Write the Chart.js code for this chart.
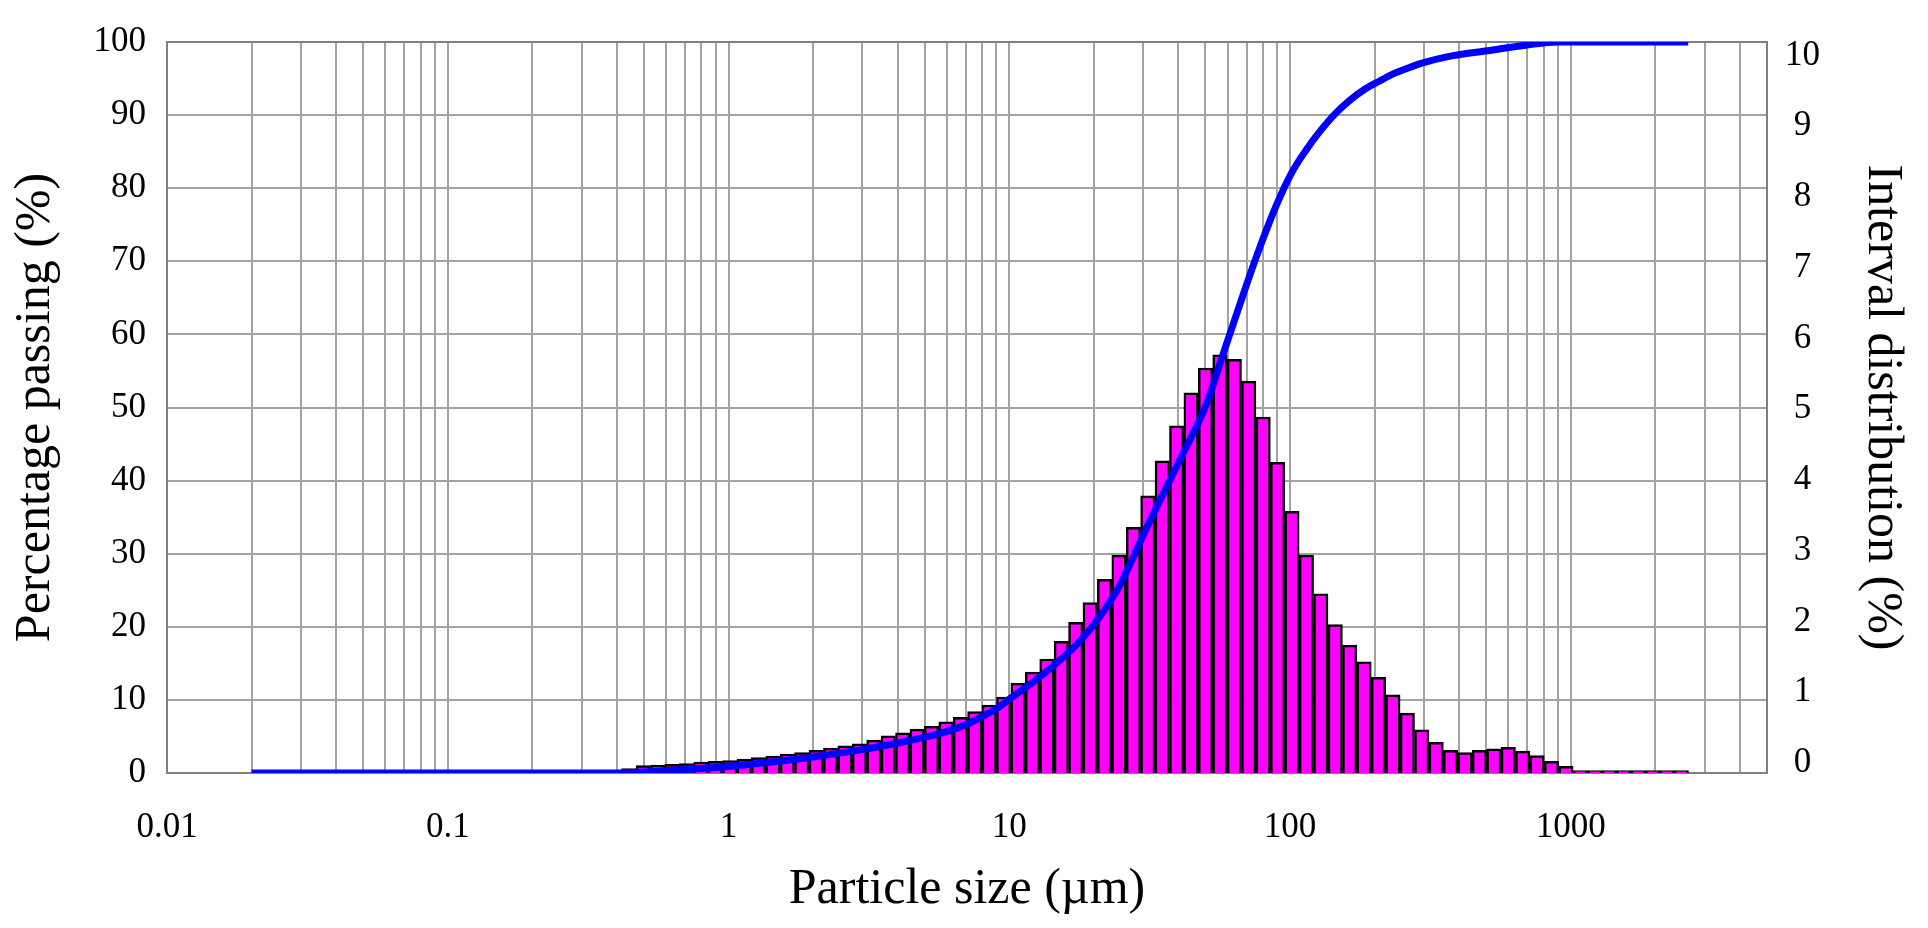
<html>
  <head>
    <script src="https://cdn.jsdelivr.net/npm/chart.js@4/dist/chart.umd.min.js"></script>
    <style>
      body { margin: 0; background: #fff; }
      canvas { display: block; }
    </style>
  </head>
  <body>
    <canvas id="chartPSD" width="1928" height="928"></canvas>
    <script>
// size classes (um, bin centres) and interval distribution (%)
const binSizes = [
  0.4413, 0.4968, 0.5592, 0.6293, 0.7083, 0.7972, 0.8973, 1.0098, 1.1366, 1.2793,
  1.4399, 1.6205, 1.8239, 2.0528, 2.3105, 2.6006, 2.9270, 3.2944, 3.7080, 4.1734,
  4.6973, 5.2870, 5.9507, 6.6977, 7.5384, 8.4849, 9.5499, 10.748, 12.098, 13.616,
  15.325, 17.249, 19.414, 21.851, 24.594, 27.682, 31.157, 35.068, 39.470, 44.425,
  50.003, 56.279, 63.344, 71.296, 80.246, 90.321, 101.62, 114.38, 128.74, 144.90,
  163.09, 183.57, 206.61, 232.55, 261.74, 294.61, 331.59, 373.22, 420.07, 472.80,
  532.17, 598.97, 674.16, 758.79, 854.04, 961.28, 1081.9, 1217.7, 1370.6, 1542.7,
  1736.4, 1954.4, 2199.8, 2475.9
];
const intervalPct = [
  0.06, 0.10, 0.11, 0.12, 0.13, 0.15, 0.16, 0.17, 0.19, 0.21,
  0.23, 0.26, 0.28, 0.31, 0.34, 0.37, 0.40, 0.45, 0.51, 0.55,
  0.60, 0.64, 0.70, 0.76, 0.84, 0.93, 1.04, 1.23, 1.38, 1.56,
  1.80, 2.06, 2.33, 2.65, 2.98, 3.36, 3.79, 4.27, 4.75, 5.20,
  5.54, 5.72, 5.66, 5.36, 4.87, 4.25, 3.58, 2.98, 2.45, 2.03,
  1.75, 1.52, 1.31, 1.07, 0.82, 0.59, 0.42, 0.31, 0.28, 0.31,
  0.33, 0.35, 0.30, 0.24, 0.16, 0.09, 0.03, 0, 0, 0,
  0, 0, 0, 0
];

// cumulative curve
const passSizes = [0.02, 0.1, 0.42, 0.6, 0.8, 1, 1.5, 2, 3, 4, 5, 6, 7, 8, 9, 10, 12, 14,
  18.4, 24.2, 31.6, 41.7, 50.3, 57.4, 65.6, 75.2, 88.6, 101, 114, 128, 145, 163, 184,
  207, 232, 262, 295, 365, 505, 700, 900, 2620];
const passPct = [0, 0, 0, 0.3, 0.6, 0.9, 1.6, 2.2, 3.2, 4.1, 4.9, 5.7, 6.6, 7.7, 8.8, 10.1, 12.3, 14.3,
  18.6, 25.0, 34.4, 43.8, 50.4, 57.0, 63.6, 70.2, 77.3, 82.0, 85.2, 87.8, 90.2, 92.0, 93.5,
  94.6, 95.6, 96.4, 97.1, 98.0, 98.8, 99.6, 100, 100];

// axes
const xDecades = [0.01, 0.1, 1, 10, 100, 1000];
const xMin = 0.01, xMax = 5000;
const leftTicks = [0, 10, 20, 30, 40, 50, 60, 70, 80, 90, 100];
const rightTicks = [0, 1, 2, 3, 4, 5, 6, 7, 8, 9, 10];

const FONT = "'Liberation Serif', 'Times New Roman', serif";
const GRID = '#a3a3a3';
const FRAME = '#808080';

var barData = binSizes.map((s, i) => ({x: s, y: intervalPct[i]}));
var lineData = passSizes.map((s, i) => ({x: s, y: passPct[i]}));

function logGridTicks(scale) {
  var t = [];
  xDecades.forEach(d => {
    for (var m = 1; m <= 9; m++) {
      var v = +(m * d).toPrecision(3);
      if (v <= xMax) t.push({value: v, major: m == 1});
    }
  });
  scale.ticks = t;
}

new Chart(document.getElementById('chartPSD'), {
  type: 'bar',
  data: {
    datasets: [{
      type: 'line',
      label: 'Percentage passing',
      data: lineData,
      xAxisID: 'x',
      yAxisID: 'y',
      borderColor: '#0000ff',
      borderWidth: 7,
      pointRadius: 0,
      cubicInterpolationMode: 'monotone',
      order: 0
    }, {
      type: 'bar',
      label: 'Interval distribution',
      data: barData,
      xAxisID: 'xb',
      yAxisID: 'y1',
      backgroundColor: '#ff00ff',
      borderColor: '#000000',
      borderWidth: 2.5,
      borderSkipped: 'start',
      minBarLength: 2.5,
      barPercentage: 1,
      categoryPercentage: 1,
      grouped: false,
      order: 1
    }]
  },
  options: {
    responsive: false,
    devicePixelRatio: 1,
    animation: false,
    layout: { padding: { top: 39, left: 0, right: 0, bottom: 0 } },
    plugins: { legend: { display: false }, tooltip: { enabled: false } },
    scales: {
      x: {
        type: 'logarithmic',
        position: 'bottom',
        min: xMin,
        max: xMax,
        offset: false,
        afterBuildTicks: logGridTicks,
        afterFit: s => { s.height = 155; },
        grid: { offset: false, color: GRID, lineWidth: 2, drawTicks: false },
        border: { color: FRAME, width: 2 },
        ticks: {
          autoSkip: false,
          maxRotation: 0,
          minRotation: 0,
          padding: 34,
          color: '#000',
          font: { family: FONT, size: 35 },
          callback: v => xDecades.includes(v) ? String(v) : ''
        },
        title: {
          display: true,
          text: 'Particle size (\u00b5m)',
          color: '#000',
          font: { family: FONT, size: 50 },
          padding: { top: 0, bottom: 8 }
        }
      },
      xb: {
        type: 'logarithmic',
        display: false,
        min: xMin,
        max: xMax,
        offset: false,
        grid: { offset: false },
        afterBuildTicks: s => { s.ticks = [{value: xMin}, {value: xMax}]; }
      },
      y: {
        type: 'linear',
        position: 'left',
        min: 0,
        max: 100,
        afterBuildTicks: s => { s.ticks = leftTicks.map(v => ({value: v})); },
        afterFit: s => { s.width = 167; },
        grid: {
          color: c => c.tick && c.tick.value === 100 ? FRAME : GRID,
          lineWidth: 2,
          drawTicks: false
        },
        border: { color: FRAME, width: 2 },
        ticks: {
          padding: 21,
          color: '#000',
          font: { family: FONT, size: 35 }
        },
        title: {
          display: true,
          text: 'Percentage passing (%)',
          color: '#000',
          font: { family: FONT, size: 50 },
          padding: { top: 6, bottom: 0 }
        }
      },
      y1: {
        type: 'linear',
        position: 'right',
        display: false,
        min: 0,
        max: 10
      },
      y2: {
        type: 'linear',
        position: 'right',
        min: -0.141,
        max: 10.19,
        afterBuildTicks: s => { s.ticks = rightTicks.map(v => ({value: v})); },
        afterFit: s => { s.width = 161; },
        grid: { display: false, drawTicks: false },
        border: { color: FRAME, width: 2 },
        ticks: {
          padding: 18,
          crossAlign: 'center',
          color: '#000',
          font: { family: FONT, size: 35 }
        },
        title: {
          display: true,
          text: 'Interval distribution (%)',
          color: '#000',
          font: { family: FONT, size: 50 },
          padding: { top: 16, bottom: 0 }
        }
      }
    }
  }
});
    </script>
  </body>
</html>
